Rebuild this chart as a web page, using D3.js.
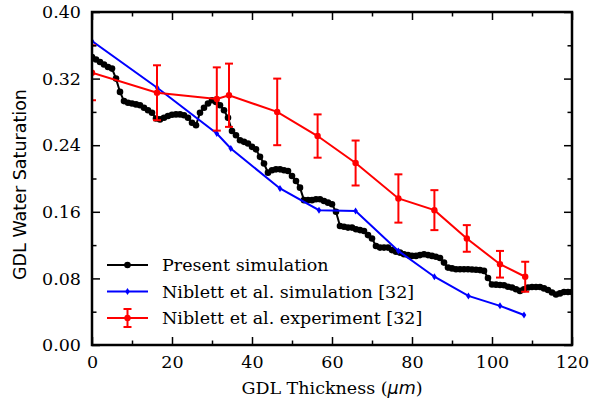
<!DOCTYPE html>
<html><head><meta charset="utf-8">
<script src="https://cdn.jsdelivr.net/npm/d3@7"></script>
<style>body{margin:0;background:#fff}svg{display:block}</style>
</head><body>
<svg id="chart" width="591" height="407"></svg>
<script>
// ---- data ----
const presentX = d3.range(0, 121); // thickness in µm, one sample per µm
const presentY = [0.346,0.343,0.340,0.337,0.334,0.332,0.320,0.304,0.293,0.291,
0.290,0.289,0.288,0.285,0.282,0.279,0.272,0.271,0.273,0.275,
0.2765,0.277,0.277,0.276,0.273,0.267,0.264,0.279,0.285,0.290,
0.294,0.292,0.288,0.282,0.273,0.257,0.252,0.246,0.244,0.242,
0.238,0.235,0.226,0.218,0.207,0.210,0.211,0.211,0.210,0.209,
0.203,0.197,0.189,0.174,0.174,0.174,0.175,0.175,0.173,0.171,
0.169,0.160,0.143,0.142,0.141,0.141,0.139,0.138,0.137,0.132,
0.128,0.119,0.117,0.117,0.117,0.114,0.112,0.111,0.109,0.108,
0.107,0.107,0.108,0.109,0.108,0.107,0.106,0.1045,0.099,0.093,
0.092,0.091,0.091,0.091,0.091,0.0907,0.0904,0.090,0.089,0.0805,
0.0727,0.0725,0.072,0.0717,0.070,0.069,0.067,0.065,0.067,0.069,
0.0697,0.0697,0.0697,0.068,0.066,0.063,0.0607,0.062,0.0637,0.0637,0.0637];

const simX = [0, 16.3, 31.2, 34.7, 47.0, 56.75, 65.9, 76.6, 85.6, 94.1, 102.0, 108.0];
const simY = [0.365, 0.309, 0.254, 0.236, 0.188, 0.162, 0.161, 0.113, 0.082, 0.059, 0.047, 0.036];

const expX   = [0, 16.25, 31.2, 34.25, 46.3, 56.4, 65.9, 76.6, 85.6, 93.7, 102.0, 108.3];
const expY   = [0.327, 0.303, 0.2955, 0.300, 0.280, 0.251, 0.2186, 0.176, 0.162, 0.128, 0.097, 0.082];
const expErr = [0.033, 0.033, 0.038, 0.038, 0.040, 0.026, 0.027, 0.029, 0.024, 0.016, 0.016, 0.018];

const xMajorTicks = [0, 20, 40, 60, 80, 100, 120];
const xMinorTicks = [10, 30, 50, 70, 90, 110];
const yMajorTicks = [0.00, 0.08, 0.16, 0.24, 0.32, 0.40];
const yMinorTicks = [0.04, 0.12, 0.20, 0.28, 0.36];

const legendLabels = ["Present simulation", "Niblett et al. simulation [32]", "Niblett et al. experiment [32]"];
const xLabel = "GDL Thickness (";
const yLabel = "GDL Water Saturation";

// ---- layout ----
const svg = d3.select("#chart");
const L = 92, R = 572, T = 12, B = 345;
const x = d3.scaleLinear().domain([0, 120]).range([L, R]);
const y = d3.scaleLinear().domain([0, 0.40]).range([B, T]);
const serif = "'DejaVu Serif', serif";
const fs = 17.5;

svg.append("defs").append("clipPath").attr("id", "clip")
  .append("rect").attr("x", L).attr("y", T).attr("width", R - L).attr("height", B - T);

const plot = svg.append("g").attr("clip-path", "url(#clip)");

// black series
const present = presentX.map((d, i) => [d, presentY[i]]);
const line = d3.line().x(d => x(d[0])).y(d => y(d[1]));
plot.append("path").datum(present).attr("d", line)
  .attr("fill", "none").attr("stroke", "#000").attr("stroke-width", 2);
plot.selectAll(".pdot").data(present).join("circle")
  .attr("cx", d => x(d[0])).attr("cy", d => y(d[1])).attr("r", 3.3).attr("fill", "#000");

// blue series
const sim = simX.map((d, i) => [d, simY[i]]);
plot.append("path").datum(sim).attr("d", line)
  .attr("fill", "none").attr("stroke", "#0000ff").attr("stroke-width", 2);
const diamond = (cx, cy) => `M${cx},${cy-3.5}L${cx+2.3},${cy}L${cx},${cy+3.5}L${cx-2.3},${cy}Z`;
plot.selectAll(".sdot").data(sim).join("path")
  .attr("d", d => diamond(x(d[0]), y(d[1]))).attr("fill", "#0000ff");

// red series with error bars
const exp = expX.map((d, i) => [d, expY[i], expErr[i]]);
plot.append("path").datum(exp).attr("d", line)
  .attr("fill", "none").attr("stroke", "#ff0000").attr("stroke-width", 2);
const eb = plot.selectAll(".eb").data(exp).join("g").attr("stroke", "#ff0000").attr("stroke-width", 2);
eb.append("line").attr("x1", d => x(d[0])).attr("x2", d => x(d[0]))
  .attr("y1", d => y(d[1] + d[2])).attr("y2", d => y(d[1] - d[2]));
eb.append("line").attr("x1", d => x(d[0]) - 4).attr("x2", d => x(d[0]) + 4)
  .attr("y1", d => y(d[1] + d[2])).attr("y2", d => y(d[1] + d[2]));
eb.append("line").attr("x1", d => x(d[0]) - 4).attr("x2", d => x(d[0]) + 4)
  .attr("y1", d => y(d[1] - d[2])).attr("y2", d => y(d[1] - d[2]));
plot.selectAll(".edot").data(exp).join("circle")
  .attr("cx", d => x(d[0])).attr("cy", d => y(d[1])).attr("r", 3.2).attr("fill", "#ff0000");

// ---- axes ----
const fmtY = d3.format(".2f");
const axB = svg.append("g").attr("transform", `translate(0,${B})`)
  .call(d3.axisBottom(x).tickValues(xMajorTicks).tickSizeInner(-8).tickSizeOuter(0).tickPadding(11).tickFormat(d3.format("d")));
const axBm = svg.append("g").attr("transform", `translate(0,${B})`)
  .call(d3.axisBottom(x).tickValues(xMinorTicks).tickSizeInner(-4.5).tickSizeOuter(0).tickFormat(""));
const axT = svg.append("g").attr("transform", `translate(0,${T})`)
  .call(d3.axisTop(x).tickValues(xMajorTicks).tickSizeInner(-8).tickSizeOuter(0).tickFormat(""));
const axTm = svg.append("g").attr("transform", `translate(0,${T})`)
  .call(d3.axisTop(x).tickValues(xMinorTicks).tickSizeInner(-4.5).tickSizeOuter(0).tickFormat(""));
const axL = svg.append("g").attr("transform", `translate(${L},0)`)
  .call(d3.axisLeft(y).tickValues(yMajorTicks).tickSizeInner(-8).tickSizeOuter(0).tickPadding(11).tickFormat(fmtY));
const axLm = svg.append("g").attr("transform", `translate(${L},0)`)
  .call(d3.axisLeft(y).tickValues(yMinorTicks).tickSizeInner(-4.5).tickSizeOuter(0).tickFormat(""));
const axR = svg.append("g").attr("transform", `translate(${R},0)`)
  .call(d3.axisRight(y).tickValues(yMajorTicks).tickSizeInner(-8).tickSizeOuter(0).tickFormat(""));
const axRm = svg.append("g").attr("transform", `translate(${R},0)`)
  .call(d3.axisRight(y).tickValues(yMinorTicks).tickSizeInner(-4.5).tickSizeOuter(0).tickFormat(""));

[axB, axBm, axT, axTm, axL, axLm, axR, axRm].forEach(a => {
  a.attr("font-family", serif).attr("font-size", fs);
  a.select(".domain").remove();
  a.selectAll(".tick line").attr("stroke", "#000").attr("stroke-width", 1.5);
  a.selectAll(".tick text").attr("font-family", serif).attr("font-size", fs).attr("fill", "#000");
});

// frame
svg.append("rect").attr("x", L).attr("y", T).attr("width", R - L).attr("height", B - T)
  .attr("fill", "none").attr("stroke", "#000").attr("stroke-width", 2.5);

// axis labels
const xl = svg.append("text").attr("x", (L + R) / 2).attr("y", 394).attr("text-anchor", "middle")
  .attr("font-family", serif).attr("font-size", fs).attr("fill", "#000");
xl.append("tspan").text(xLabel);
xl.append("tspan").attr("font-family", "'DejaVu Sans', sans-serif").attr("font-style", "italic").text("μm");
xl.append("tspan").text(")");

svg.append("text").attr("transform", `translate(26,${(T + B) / 2 + 6}) rotate(-90)`)
  .attr("text-anchor", "middle").attr("font-family", "'DejaVu Sans', sans-serif")
  .attr("font-size", fs).attr("fill", "#000").text(yLabel);

// legend
const legY = [265, 291.5, 318];
const lg = svg.append("g");
const colors = ["#000", "#0000ff", "#ff0000"];
legendLabels.forEach((lab, i) => {
  const g = lg.append("g").attr("transform", `translate(0,${legY[i]})`);
  g.append("line").attr("x1", 107).attr("x2", 148).attr("y1", 0).attr("y2", 0)
    .attr("stroke", colors[i]).attr("stroke-width", 2);
  if (i === 0) g.append("circle").attr("cx", 127.5).attr("cy", 0).attr("r", 3.3).attr("fill", "#000");
  if (i === 1) g.append("path").attr("d", diamond(127.5, 0)).attr("fill", "#0000ff");
  if (i === 2) {
    g.append("line").attr("x1", 127.5).attr("x2", 127.5).attr("y1", -9).attr("y2", 9).attr("stroke", "#ff0000").attr("stroke-width", 2);
    g.append("line").attr("x1", 123.5).attr("x2", 131.5).attr("y1", -9).attr("y2", -9).attr("stroke", "#ff0000").attr("stroke-width", 2);
    g.append("line").attr("x1", 123.5).attr("x2", 131.5).attr("y1", 9).attr("y2", 9).attr("stroke", "#ff0000").attr("stroke-width", 2);
    g.append("circle").attr("cx", 127.5).attr("cy", 0).attr("r", 3.2).attr("fill", "#ff0000");
  }
  g.append("text").attr("x", 162).attr("y", 0).attr("dy", "0.35em")
    .attr("font-family", serif).attr("font-size", fs).attr("fill", "#000").text(lab);
});
</script>
</body></html>
